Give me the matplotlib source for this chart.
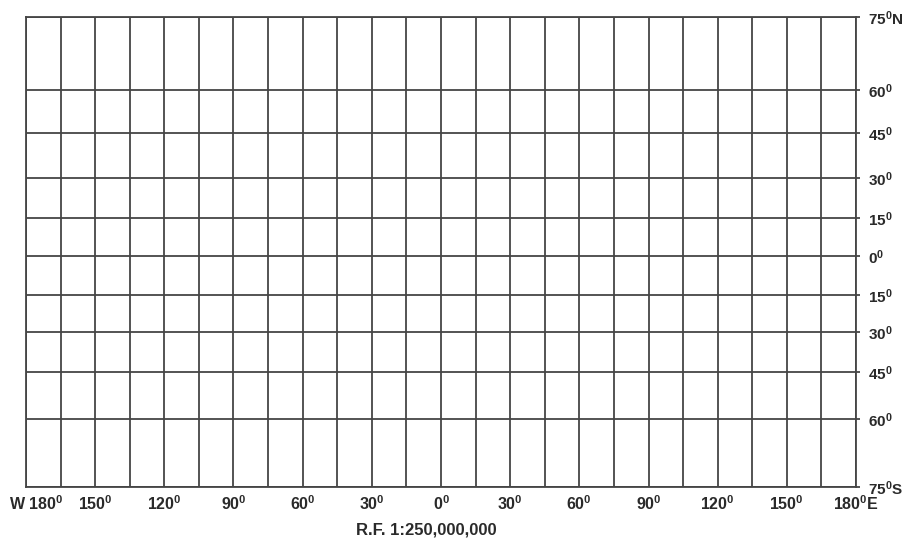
import matplotlib
matplotlib.use("Agg")
import matplotlib.pyplot as plt
from matplotlib.transforms import ScaledTranslation

# meridians every 15 degrees, W negative
lons = list(range(-180, 181, 15))
lon_ticks = list(range(-180, 181, 30))
lon_labels = ['W 180$^0$', '150$^0$', '120$^0$', '90$^0$', '60$^0$', '30$^0$',
              '0$^0$', '30$^0$', '60$^0$', '90$^0$', '120$^0$', '150$^0$',
              '180$^0$E']

# parallels: latitude and the map ordinate
lats = [75, 60, 45, 30, 15, 0, -15, -30, -45, -60, -75]
lat_y = [239, 166, 123, 78, 38, 0, -39, -76, -116, -163, -231]
lat_labels = ['75$^0$N', '60$^0$', '45$^0$', '30$^0$', '15$^0$', '0$^0$',
              '15$^0$', '30$^0$', '45$^0$', '60$^0$', '75$^0$S']

scale_text = 'R.F. 1:250,000,000'

plt.rcParams['font.family'] = ['Liberation Sans', 'DejaVu Sans']
plt.rcParams['font.weight'] = 'bold'
plt.rcParams['mathtext.fontset'] = 'custom'
plt.rcParams['mathtext.rm'] = 'Liberation Sans:bold'
plt.rcParams['mathtext.it'] = 'Liberation Sans:bold'
plt.rcParams['mathtext.bf'] = 'Liberation Sans:bold'

line_col = '#454545'
text_col = '#2a2a2a'
lw = 1.3

W, H = 906, 544
fig = plt.figure(figsize=(W / 100, H / 100), dpi=100)
ax = fig.add_axes([26 / W, 1 - 487 / H, (856 - 26) / W, (487 - 17) / H])

ax.vlines(lons, min(lat_y), max(lat_y), color=line_col, lw=lw)
ax.hlines(lat_y, lons[0], lons[-1], color=line_col, lw=lw)

ax.set_xlim(lons[0], lons[-1])
ax.set_ylim(min(lat_y), max(lat_y))
for sp in ax.spines.values():
    sp.set_color(line_col)
    sp.set_linewidth(lw)

ax.set_xticks(lon_ticks)
ax.set_xticklabels(lon_labels)
ax.set_yticks(lat_y)
ax.set_yticklabels(lat_labels)
ax.yaxis.tick_right()
ax.tick_params(axis='x', length=0, pad=5, labelsize=11.5, labelcolor=text_col)
ax.tick_params(axis='y', length=3, width=lw, color=line_col, pad=6,
               labelsize=11, labelcolor=text_col)

# west label sits a little right of its meridian
lab = ax.get_xticklabels()[0]
lab.set_transform(lab.get_transform() + ScaledTranslation(0.1, 0, fig.dpi_scale_trans))

fig.text(426 / W, 1 - 530 / H, scale_text, ha='center', va='center',
         fontsize=12, color=text_col)

fig.savefig('out.png', dpi=100)
